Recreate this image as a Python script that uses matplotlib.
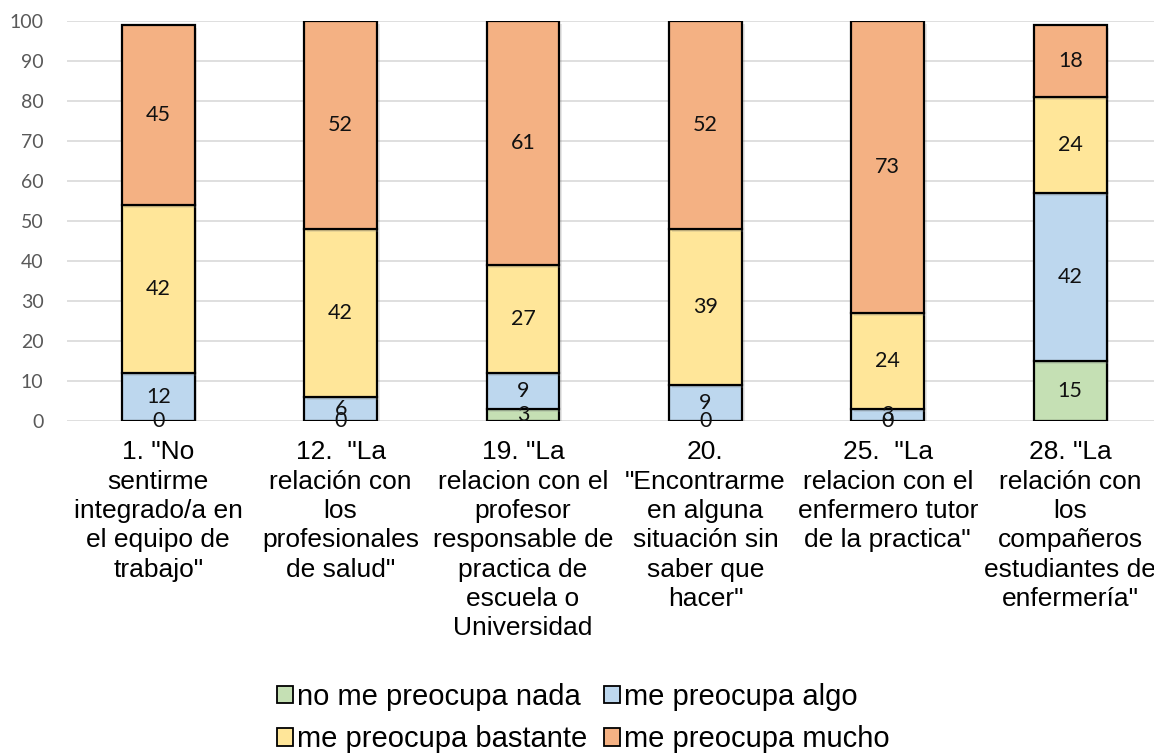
import matplotlib
matplotlib.use("Agg")
import matplotlib.pyplot as plt
import matplotlib.patheffects as pe
from matplotlib.patches import Patch
import numpy as np

categories = [
    '1. "No\nsentirme\nintegrado/a en\nel equipo de\ntrabajo"',
    '12.  "La\nrelación con\nlos\nprofesionales\nde salud"',
    '19. "La\nrelacion con el\nprofesor\nresponsable de\npractica de\nescuela o\nUniversidad',
    '20.\n"Encontrarme\nen alguna\nsituación sin\nsaber que\nhacer"',
    '25.  "La\nrelacion con el\nenfermero tutor\nde la practica"',
    '28. "La\nrelación con\nlos\ncompañeros\nestudiantes de\nenfermería"',
]
series_names = ["no me preocupa nada", "me preocupa algo",
                "me preocupa bastante", "me preocupa mucho"]
nada = [0, 0, 3, 0, 0, 15]
algo = [12, 6, 9, 9, 3, 42]
bastante = [42, 42, 27, 39, 24, 24]
mucho = [45, 52, 61, 52, 73, 18]
colors = ["#C5E0B4", "#BDD7EE", "#FFE699", "#F4B183"]
yticks = list(range(0, 101, 10))

W, H = 1154, 755
fig = plt.figure(figsize=(W / 100, H / 100), dpi=100)
ax = fig.add_axes([67 / W, 1 - 421 / H, (W - 67) / W, 400 / H])

x = np.arange(len(categories))
bottom = np.zeros(len(categories))
shadow = [pe.SimplePatchShadow(offset=(2, -2), alpha=0.18, shadow_rgbFace="gray"), pe.Normal()]
handles = []
for vals, name, col in zip([nada, algo, bastante, mucho], series_names, colors):
    bars = ax.bar(x, vals, 0.40, bottom=bottom, color=col, edgecolor="black",
                  linewidth=1.6, zorder=3, label=name)
    for b in bars:
        b.set_path_effects(shadow)
    ax.bar_label(bars, labels=[str(v) for v in vals], label_type="center",
                 fontsize=15.5, family="Lato", color="#111111", zorder=5)
    bottom += np.array(vals)
    handles.append(Patch(facecolor=col, edgecolor="black", linewidth=1.3, label=name))

ax.set_ylim(0, 100)
ax.set_xlim(-0.5, -0.5 + (W - 67) / 182.4)
ax.set_yticks(yticks)
ax.yaxis.grid(True, color="#D9D9D9", linewidth=1.2, zorder=0)
ax.set_axisbelow(True)
for s in ax.spines.values():
    s.set_visible(False)
ax.tick_params(axis="y", length=0, pad=17, labelsize=14, labelcolor="#595959")
ax.tick_params(axis="x", length=0, pad=14)
for lbl in ax.get_yticklabels():
    lbl.set_family("Lato")
ax.set_xticks(x)
ax.set_xticklabels(categories, fontsize=19, family="Liberation Sans",
                   linespacing=1.28, color="black")

order = [0, 2, 1, 3]
leg = fig.legend(handles=[handles[i] for i in order], loc="center left",
                 bbox_to_anchor=(277 / W, 1 - 718 / H), frameon=False, ncol=2,
                 handlelength=0.55, handleheight=0.55, handletextpad=0.15,
                 columnspacing=0.55, labelspacing=0.5, borderaxespad=0, borderpad=0,
                 prop={"family": "Liberation Sans", "size": 21})

fig.savefig("out.png", dpi=100)
